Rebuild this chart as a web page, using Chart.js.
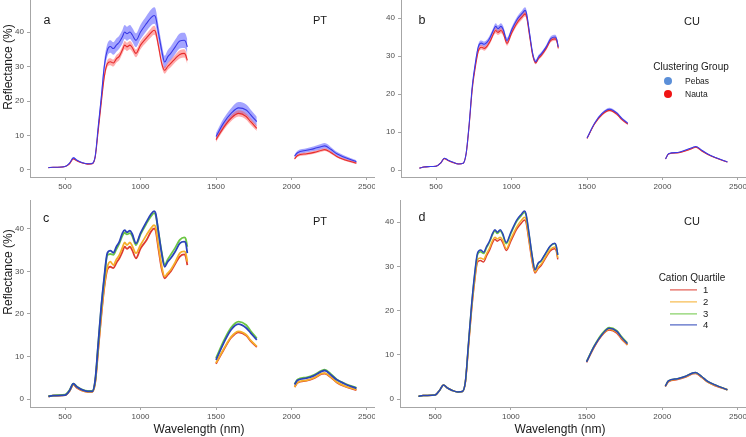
<!DOCTYPE html>
<html>
<head>
<meta charset="utf-8">
<script src="https://cdn.jsdelivr.net/npm/chart.js"></script>
<style>
  body { margin:0; background:#fff; width:746px; height:437px; position:relative; overflow:hidden; font-family:"Liberation Sans", Arial, sans-serif; }
  canvas { position:absolute; }
  .txt { position:absolute; white-space:nowrap; color:#1a1a1a; transform:translate(-50%,-50%); line-height:1; }
  .ytitle { font-size:12px; transform:translate(-50%,-50%) rotate(-90deg); }
  .xtitle { font-size:12px; }
  .plabel { font-size:12.5px; }
  .site { font-size:11px; }
  .legtitle { font-size:10px; }
  .legitem { font-size:8.5px; transform:translate(0,-50%); }
  .dot { position:absolute; width:8px; height:8px; border-radius:50%; transform:translate(-50%,-50%); }
  .swatch { position:absolute; width:27px; height:1.2px; transform:translate(0,-50%); }
</style>
</head>
<body>
<canvas id="panelA" width="375" height="200" style="left:0px;top:0px"></canvas>
<canvas id="panelB" width="375" height="200" style="left:371px;top:0px"></canvas>
<canvas id="panelC" width="375" height="230" style="left:0px;top:200px"></canvas>
<canvas id="panelD" width="376" height="230" style="left:370px;top:200px"></canvas>

<div class="txt ytitle" style="left:8px;top:67px">Reflectance (%)</div>
<div class="txt ytitle" style="left:8px;top:272px">Reflectance (%)</div>
<div class="txt xtitle" style="left:199px;top:429px">Wavelength (nm)</div>
<div class="txt xtitle" style="left:560px;top:429px">Wavelength (nm)</div>

<div class="txt plabel" style="left:47px;top:20px">a</div>
<div class="txt site" style="left:320px;top:20px">PT</div>
<div class="txt plabel" style="left:422px;top:20px">b</div>
<div class="txt site" style="left:692px;top:21px">CU</div>
<div class="txt plabel" style="left:46px;top:218px">c</div>
<div class="txt site" style="left:320px;top:221px">PT</div>
<div class="txt plabel" style="left:422px;top:217px">d</div>
<div class="txt site" style="left:692px;top:221px">CU</div>

<div class="txt legtitle" style="left:691px;top:67px">Clustering Group</div>
<div class="dot" style="left:668px;top:81px;background:#5b8fd8"></div>
<div class="txt legitem" style="left:685px;top:81px">Pebas</div>
<div class="dot" style="left:668px;top:94px;background:#f01414"></div>
<div class="txt legitem" style="left:685px;top:94px">Nauta</div>

<div class="txt legtitle" style="left:692px;top:278px">Cation Quartile</div>
<div id="quartileLegend"></div>

<script>
const xTicks = [500, 1000, 1500, 2000, 2500];
const yTicks = [0, 10, 20, 30, 40];

// wavelengths (nm); 1400 and 1900 are the removed water bands (null values)
const wavelength = [390, 420, 450, 500, 530, 555, 580, 610, 650, 680,
  700, 720, 740, 760, 780, 800, 820, 840, 860, 880,
  895, 910, 930, 945, 970, 1000, 1040, 1070, 1090, 1100,
  1120, 1140, 1160, 1180, 1200, 1230, 1260, 1290, 1300, 1310,
  1400,
  1500, 1550, 1600, 1650, 1700, 1730, 1770,
  1900,
  2020, 2040, 2100, 2150, 2200, 2220, 2260, 2300, 2350, 2430];

// panel a (PT) clustering groups
const ptPebasMean = [0.7, 0.8, 0.8, 1.0, 2.0, 3.5, 2.8, 2.2, 1.8, 1.9,
  4.0, 12.6, 21.0, 30.0, 34.7, 35.8, 35.2, 36.2, 37.1, 38.6,
  40.0, 39.5, 40.0, 39.2, 37.6, 40.0, 42.5, 44.2, 44.8, 44.3,
  39.5, 34.7, 31.3, 32.8, 33.8, 35.7, 37.4, 37.6, 37.1, 35.7,
  null,
  9.7, 13.6, 16.4, 18.0, 17.4, 16.0, 14.0,
  null,
  4.0, 5.0, 5.7, 6.2, 6.8, 7.0, 6.0, 4.7, 3.7, 2.4];
const ptPebasSd = [0.1, 0.1, 0.1, 0.1, 0.2, 0.3, 0.2, 0.2, 0.2, 0.2,
  0.4, 1.0, 1.4, 1.7, 1.8, 1.8, 1.8, 1.9, 1.9, 2.0,
  2.0, 2.0, 2.0, 2.0, 2.0, 2.1, 2.2, 2.3, 2.4, 2.4,
  2.2, 2.0, 1.8, 1.9, 2.0, 2.1, 2.2, 2.2, 2.2, 2.2,
  null,
  1.0, 1.3, 1.5, 1.7, 1.6, 1.5, 1.4,
  null,
  0.5, 0.6, 0.6, 0.7, 0.8, 0.8, 0.7, 0.6, 0.5, 0.4];
const ptNautaMean = [0.7, 0.8, 0.8, 1.0, 1.8, 3.2, 2.6, 2.1, 1.7, 1.8,
  3.8, 11.5, 19.5, 27.0, 30.8, 31.4, 31.0, 32.2, 33.0, 34.8,
  36.2, 35.7, 36.2, 35.5, 33.8, 36.2, 38.3, 39.8, 40.5, 40.0,
  35.7, 31.0, 28.9, 30.0, 30.9, 32.3, 33.5, 33.8, 33.2, 31.8,
  null,
  8.8, 12.3, 15.0, 16.4, 15.5, 14.0, 12.1,
  null,
  3.2, 4.2, 4.7, 5.1, 5.7, 5.9, 5.1, 3.9, 3.0, 2.0];
const ptNautaSd = [0.1, 0.1, 0.1, 0.1, 0.1, 0.2, 0.1, 0.1, 0.1, 0.1,
  0.3, 0.7, 0.9, 1.0, 1.0, 1.0, 1.0, 1.1, 1.1, 1.1,
  1.2, 1.2, 1.2, 1.2, 1.1, 1.2, 1.2, 1.3, 1.3, 1.3,
  1.2, 1.1, 1.0, 1.0, 1.1, 1.1, 1.2, 1.2, 1.2, 1.2,
  null,
  0.7, 0.8, 0.9, 0.9, 0.9, 0.9, 0.8,
  null,
  0.3, 0.4, 0.4, 0.4, 0.4, 0.4, 0.4, 0.3, 0.3, 0.3];

// panel b (CU) clustering groups
const cuPebasMean = [0.5, 0.8, 0.9, 1.0, 1.8, 3.1, 2.6, 2.1, 1.6, 1.8,
  4.5, 12.3, 22.0, 28.0, 32.4, 33.4, 33.1, 33.7, 35.0, 36.8,
  37.8, 37.2, 37.8, 37.0, 34.1, 36.8, 39.8, 41.2, 42.0, 41.1,
  35.9, 30.7, 28.5, 29.8, 30.7, 32.4, 34.6, 35.0, 34.3, 32.4,
  null,
  8.4, 12.3, 14.9, 16.0, 14.9, 13.6, 12.3,
  null,
  2.9, 4.3, 4.6, 5.2, 5.9, 6.2, 5.2, 4.2, 3.3, 2.1];
const cuPebasSd = [0.1, 0.1, 0.1, 0.1, 0.1, 0.1, 0.1, 0.1, 0.1, 0.1,
  0.2, 0.4, 0.5, 0.6, 0.7, 0.7, 0.7, 0.7, 0.7, 0.7,
  0.8, 0.8, 0.8, 0.8, 0.7, 0.7, 0.7, 0.8, 0.8, 0.8,
  0.7, 0.6, 0.5, 0.5, 0.5, 0.5, 0.6, 0.6, 0.6, 0.6,
  null,
  0.2, 0.3, 0.3, 0.4, 0.3, 0.3, 0.3,
  null,
  0.1, 0.1, 0.1, 0.1, 0.15, 0.15, 0.1, 0.1, 0.1, 0.1];
const cuNautaMean = [0.5, 0.8, 0.9, 1.0, 1.8, 3.0, 2.5, 2.0, 1.6, 1.8,
  4.4, 12.0, 21.3, 27.0, 31.3, 32.3, 32.0, 32.7, 34.0, 35.8,
  36.7, 36.2, 36.7, 36.0, 33.3, 36.0, 38.9, 40.3, 41.1, 40.3,
  35.2, 30.2, 28.2, 29.4, 30.3, 32.0, 34.1, 34.5, 33.9, 32.0,
  null,
  8.3, 12.1, 14.6, 15.7, 14.6, 13.3, 12.1,
  null,
  2.9, 4.2, 4.5, 5.0, 5.7, 6.0, 5.0, 4.1, 3.2, 2.1];
const cuNautaSd = [0.1, 0.1, 0.1, 0.1, 0.1, 0.1, 0.1, 0.1, 0.1, 0.1,
  0.2, 0.3, 0.4, 0.5, 0.6, 0.6, 0.6, 0.6, 0.6, 0.6,
  0.7, 0.7, 0.7, 0.7, 0.6, 0.6, 0.7, 0.7, 0.7, 0.7,
  0.6, 0.5, 0.4, 0.4, 0.5, 0.5, 0.5, 0.5, 0.5, 0.5,
  null,
  0.2, 0.2, 0.3, 0.3, 0.3, 0.3, 0.3,
  null,
  0.1, 0.1, 0.1, 0.1, 0.1, 0.1, 0.1, 0.1, 0.1, 0.1];

// panel c (PT) cation quartiles 1..4
const ptQ1 = [0.6, 0.8, 0.8, 0.9, 1.9, 3.3, 2.6, 2.0, 1.7, 1.7,
  3.9, 11.6, 19.5, 26.2, 30.4, 31.1, 30.8, 32.0, 33.1, 34.6,
  35.8, 35.3, 35.8, 35.0, 33.1, 35.4, 37.4, 39.4, 40.1, 39.6,
  35.0, 30.6, 28.4, 29.2, 30.0, 31.8, 33.5, 34.0, 33.4, 31.5,
  null,
  8.3, 11.5, 14.4, 15.7, 14.9, 13.6, 12.2,
  null,
  2.8, 3.8, 4.3, 4.9, 5.9, 6.0, 5.1, 3.9, 3.0, 2.1];
const ptQ2 = [0.6, 0.8, 0.8, 0.9, 1.9, 3.4, 2.7, 2.1, 1.7, 1.7,
  4.0, 12.0, 20.0, 26.8, 31.0, 32.3, 31.5, 32.8, 33.9, 35.6,
  36.8, 36.2, 36.8, 36.0, 34.3, 36.2, 38.6, 40.2, 40.9, 40.4,
  35.8, 31.3, 28.8, 29.6, 30.4, 32.2, 34.3, 34.7, 34.2, 32.3,
  null,
  8.5, 11.7, 14.6, 15.9, 15.1, 13.8, 12.4,
  null,
  2.8, 3.9, 4.4, 5.0, 6.0, 6.1, 5.2, 4.0, 3.1, 2.2];
const ptQ3 = [0.7, 0.8, 0.9, 1.0, 2.1, 3.6, 2.9, 2.3, 1.9, 1.9,
  4.4, 12.9, 21.5, 28.3, 33.8, 34.1, 33.9, 35.2, 36.6, 38.4,
  39.1, 38.7, 39.0, 38.3, 36.2, 38.7, 41.3, 43.0, 43.7, 43.3,
  39.0, 34.6, 31.5, 32.8, 33.9, 35.6, 37.4, 38.0, 37.6, 35.8,
  null,
  9.6, 13.6, 16.8, 18.2, 17.4, 16.0, 14.3,
  null,
  3.5, 4.6, 5.1, 5.7, 6.7, 6.9, 5.9, 4.6, 3.7, 2.6];
const ptQ4 = [0.6, 0.8, 0.8, 0.9, 2.0, 3.6, 2.8, 2.2, 1.8, 1.8,
  4.5, 13.1, 21.8, 28.8, 34.3, 34.9, 34.4, 35.8, 37.0, 39.0,
  39.7, 39.2, 39.6, 38.8, 36.6, 39.0, 41.7, 43.5, 44.2, 43.7,
  39.0, 34.3, 31.1, 32.3, 33.1, 34.7, 36.6, 37.0, 36.6, 34.3,
  null,
  9.2, 13.1, 16.3, 17.6, 16.7, 15.5, 13.9,
  null,
  3.4, 4.4, 4.9, 5.5, 6.5, 6.7, 5.7, 4.5, 3.6, 2.5];

// panel d (CU) cation quartiles 1..4
const cuQ1 = [0.6, 0.8, 0.8, 0.9, 2.0, 3.2, 2.5, 2.0, 1.6, 1.7,
  3.8, 11.7, 19.8, 26.3, 31.0, 31.3, 31.0, 32.4, 33.7, 35.4,
  36.1, 35.7, 36.1, 35.5, 33.6, 35.7, 38.5, 39.8, 40.5, 40.0,
  35.7, 31.2, 28.5, 29.5, 30.2, 31.9, 33.5, 34.0, 33.5, 31.6,
  null,
  8.3, 11.7, 14.3, 15.6, 14.9, 13.6, 12.2,
  null,
  2.8, 3.9, 4.4, 4.9, 5.7, 5.8, 4.9, 3.8, 3.0, 2.1];
const cuQ2 = [0.6, 0.8, 0.8, 0.9, 2.0, 3.2, 2.5, 2.0, 1.6, 1.7,
  3.9, 12.0, 20.2, 26.8, 31.5, 31.9, 31.6, 32.9, 34.2, 35.9,
  36.6, 36.2, 36.6, 36.0, 34.0, 36.2, 39.0, 40.4, 41.1, 40.6,
  36.2, 31.6, 28.7, 29.8, 30.5, 32.2, 33.8, 34.4, 33.9, 31.9,
  null,
  8.4, 11.8, 14.4, 15.8, 15.1, 13.8, 12.3,
  null,
  2.9, 4.0, 4.5, 5.0, 5.8, 5.9, 5.0, 3.9, 3.1, 2.1];
const cuQ3 = [0.6, 0.8, 0.8, 0.9, 2.0, 3.2, 2.5, 2.0, 1.6, 1.7,
  4.0, 12.4, 20.8, 27.7, 32.6, 33.3, 32.9, 34.2, 35.5, 37.2,
  38.0, 37.4, 38.0, 37.2, 35.1, 37.4, 40.2, 41.5, 42.2, 41.6,
  37.3, 32.6, 29.3, 30.6, 31.2, 32.9, 34.5, 35.1, 34.5, 32.6,
  null,
  8.5, 12.0, 14.7, 16.2, 15.5, 14.2, 12.7,
  null,
  2.9, 4.1, 4.6, 5.1, 5.9, 6.0, 5.1, 4.0, 3.2, 2.1];
const cuQ4 = [0.6, 0.8, 0.8, 0.9, 2.0, 3.2, 2.5, 2.0, 1.6, 1.7,
  4.0, 12.5, 21.0, 28.0, 33.0, 33.7, 33.2, 34.5, 35.8, 37.5,
  38.3, 37.7, 38.3, 37.5, 35.4, 37.7, 40.5, 41.8, 42.5, 41.9,
  37.5, 32.6, 29.2, 30.7, 31.3, 33.0, 34.6, 35.2, 34.6, 32.6,
  null,
  8.4, 11.9, 14.5, 16.0, 15.3, 14.0, 12.5,
  null,
  2.9, 4.1, 4.6, 5.1, 5.9, 6.0, 5.1, 4.0, 3.2, 2.1];

const quartiles = ['1', '2', '3', '4'];
const quartileColors = ['#dd3b30', '#f5ae2a', '#6cc644', '#2a44b8'];
const pebasLine = '#3a3ae6', pebasBand = 'rgba(90,90,255,0.55)';
const nautaLine = '#e52b2b', nautaBand = 'rgba(255,90,90,0.5)';
const axisGrey = '#a6a6a6';
const fontFamily = '"Liberation Sans", Arial, sans-serif';

function pts(vals) {
  return wavelength.map((w, i) => ({ x: w, y: vals[i] }));
}
function shift(mean, sd, sign) {
  return mean.map((v, i) => v == null ? null : v + sign * sd[i]);
}

function groupDatasets(pMean, pSd, nMean, nSd) {
  // first in list is drawn on top
  return [
    { data: pts(pMean), borderColor: pebasLine, borderWidth: 1.1, fill: false },
    { data: pts(nMean), borderColor: nautaLine, borderWidth: 1.1, fill: false },
    { data: pts(shift(nMean, nSd, 1)), borderWidth: 0, borderColor: 'transparent', fill: '+1', backgroundColor: nautaBand },
    { data: pts(shift(nMean, nSd, -1)), borderWidth: 0, borderColor: 'transparent', fill: false },
    { data: pts(shift(pMean, pSd, 1)), borderWidth: 0, borderColor: 'transparent', fill: '+1', backgroundColor: pebasBand },
    { data: pts(shift(pMean, pSd, -1)), borderWidth: 0, borderColor: 'transparent', fill: false }
  ];
}

function quartileDatasets(series, width) {
  const list = series.map((vals, i) => ({
    data: pts(vals), borderColor: quartileColors[i], borderWidth: width, fill: false
  }));
  return list.reverse(); // quartile 4 on top
}

function makePanel(id, datasets, yMin, yMax, xHeight) {
  const tickFont = { size: 8, family: fontFamily };
  new Chart(document.getElementById(id), {
    type: 'line',
    data: { datasets: datasets },
    options: {
      responsive: false,
      animation: false,
      events: [],
      spanGaps: false,
      layout: { padding: 0 },
      plugins: { legend: { display: false }, tooltip: { enabled: false } },
      elements: { point: { radius: 0 }, line: { cubicInterpolationMode: 'monotone' } },
      scales: {
        x: {
          type: 'linear', min: 268, max: 2553,
          afterBuildTicks: s => { s.ticks = xTicks.map(v => ({ value: v })); },
          afterFit: s => { s.height = xHeight; s.paddingLeft = 0; s.paddingRight = 0; },
          grid: { display: true, drawOnChartArea: false, tickLength: 3, color: axisGrey },
          border: { display: true, color: axisGrey, width: 1 },
          ticks: { font: tickFont, color: '#4d4d4d', padding: 2, maxRotation: 0, autoSkip: false,
                   callback: v => String(v) }
        },
        y: {
          type: 'linear', min: yMin, max: yMax,
          afterBuildTicks: s => { s.ticks = yTicks.map(v => ({ value: v })); },
          afterFit: s => { s.width = 30; s.paddingTop = 0; s.paddingBottom = 0; },
          grid: { display: true, drawOnChartArea: false, tickLength: 3, color: axisGrey },
          border: { display: true, color: axisGrey, width: 1 },
          ticks: { font: tickFont, color: '#4d4d4d', padding: 3, autoSkip: false,
                   callback: v => String(v) }
        }
      }
    }
  });
}

makePanel('panelA', groupDatasets(ptPebasMean, ptPebasSd, ptNautaMean, ptNautaSd), -2.03, 49.28, 23);
makePanel('panelB', groupDatasets(cuPebasMean, cuPebasSd, cuNautaMean, cuNautaSd), -1.84, 44.74, 23);
makePanel('panelC', quartileDatasets([ptQ1, ptQ2, ptQ3, ptQ4], 1.8), -1.88, 46.8, 23);
makePanel('panelD', quartileDatasets([cuQ1, cuQ2, cuQ3, cuQ4], 1.5), -1.8, 45.0, 23);

// quartile legend (panel d)
const leg = document.getElementById('quartileLegend');
const legY = [290, 302, 314, 325];
quartiles.forEach((q, i) => {
  const sw = document.createElement('div');
  sw.className = 'swatch';
  sw.style.left = '670px'; sw.style.top = legY[i] + 'px';
  sw.style.background = quartileColors[i];
  leg.appendChild(sw);
  const t = document.createElement('div');
  t.className = 'txt legitem';
  t.style.left = '703px'; t.style.top = legY[i] + 'px'; t.style.fontSize = '9.5px';
  t.textContent = q;
  leg.appendChild(t);
});
</script>
</body>
</html>
